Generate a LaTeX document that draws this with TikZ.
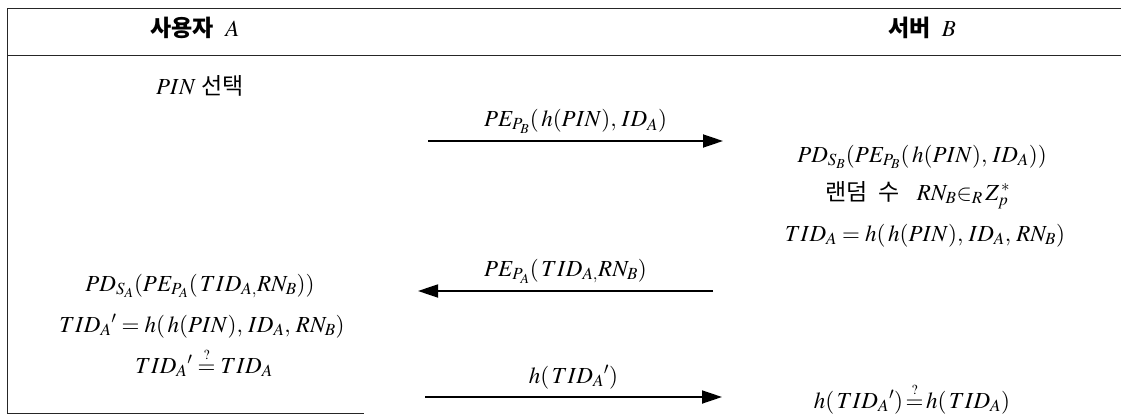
\documentclass[tikz,border=0pt]{standalone}
\usepackage{mathptmx}
\usepackage{fontspec}
\setmainfont{Liberation Serif}
\newfontfamily\kr{Noto Sans CJK KR}
\usetikzlibrary{arrows.meta}
\newcommand{\qeq}{\stackrel{\scriptscriptstyle ?}{=}}
\begin{document}
\begin{tikzpicture}[x=1pt,y=-1pt,
  txt/.style={font=\fontsize{23}{27}\selectfont, inner sep=0pt, anchor=base},
  head/.style={txt, font=\fontsize{23}{27}\selectfont\bfseries},
  frame/.style={line width=0.9pt, black!85},
  msg/.style={line width=1.8pt, -{Triangle[length=20pt,width=13pt]}},
  lbl/.style={txt, above=7pt}]
\useasboundingbox (0,0) rectangle (1121,417);

% table frame
\coordinate (tl) at (7,8);
\coordinate (tr) at (1121,8);
\coordinate (hl) at (7,55);
\coordinate (hr) at (1121,55);
\coordinate (bl) at (7,413);
\coordinate (br) at (364,413);
\draw[frame] (tr) -- (tl) -- (bl) -- (br);
\draw[frame] (hl) -- (hr);

% column headings
\node[head] (userA) at (195,37) {{\kr 사용자}\ \ $A$};
\node[head] (serverB) at (922,37) {{\kr 서버}\ \ $B$};

% user side
\node[txt] (pin) at (200,95) {$PIN$ {\kr 선택}};
\node[txt] (decA) at (200,291) {$PD_{S_A}(PE_{P_A}(\,TID_{A,}RN_B))$};
\node[txt] (tidA) at (202,332) {${TID_A}' = h(\,h(PIN),\, ID_A,\, RN_B)$};
\node[txt] (chkA) at (204,373) {${TID_A}' \qeq TID_A$};

% server side
\node[txt] (decB) at (922,162) {$PD_{S_B}(PE_{P_B}(\,h(PIN),\, ID_A))$};
\node[txt] (rnd) at (918,200) {{\kr 랜덤\ \ 수}\ \ \ $RN_B{\in}_R\,Z_p^{\,*}$};
\node[txt] (tidB) at (925,241) {$TID_A = h(\,h(PIN),\, ID_A,\, RN_B)$};
\node[txt] (chkB) at (912,408) {$h(\,{TID_A}')\!\qeq\!h(\,TID_A)$};

% messages
\coordinate (m1s) at (428,141);
\coordinate (m1e) at (723,141);
\coordinate (m2s) at (713,291);
\coordinate (m2e) at (418,291);
\coordinate (m3s) at (425,397);
\coordinate (m3e) at (722,397);
\draw[msg] (m1s) -- node[lbl] (l1) {$PE_{P_B}(\,h(PIN),\, ID_A)$} (m1e);
\draw[msg] (m2s) -- node[lbl] (l2) {$PE_{P_A}(\,TID_{A,}RN_B)$} (m2e);
\draw[msg] (m3s) -- node[lbl] (l3) {$h(\,{TID_A}')$} (m3e);
\end{tikzpicture}
\end{document}
